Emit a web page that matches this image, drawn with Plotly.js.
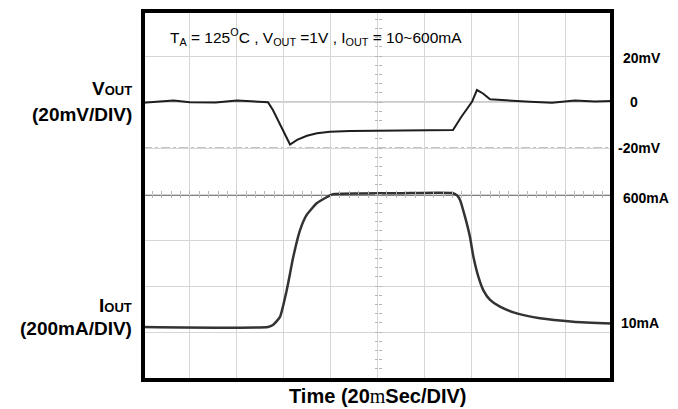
<!DOCTYPE html>
<html><head><meta charset="utf-8">
<script src="https://cdn.plot.ly/plotly-3.0.1.min.js"></script>
<style>html,body{margin:0;padding:0;background:#fff}</style>
</head><body><div id="chart" style="width:678px;height:409px"></div>
<script>
// Time in ms (20 ms / division, 10 divisions)
const timeV = [0, 7, 13, 20, 31, 40, 48, 53.3, 55.4, 59.7, 62.7, 65.7, 69.9, 74.2, 79.7, 88.3, 98.1, 109.6, 122.4, 132.2, 135.7, 140.3, 142.4, 145, 148, 155.7, 165, 174.4, 184.2, 192.7, 200];
// VOUT deviation in mV
const vout = [-0.3, 0.1, 0.6, -0.1, -0.2, 0.6, 0, -0.1, -3.5, -12.2, -18.5, -16.5, -14.7, -13.6, -12.9, -12.6, -12.5, -12.4, -12.3, -12.2, -6.5, 0.1, 5.2, 3.7, 1.2, 0.6, 0.1, -0.3, 0.6, 0.2, 0.4];
const timeI = [0, 53.3, 55.4, 58.4, 61.3, 64.1, 67, 69.8, 74.2, 78.5, 81, 92.5, 109.6, 132.2, 133.9, 135.2, 137.3, 139.4, 140.9, 143.0, 145.1, 148.0, 152.2, 159.4, 169.3, 183.5, 200];
// IOUT in mA
const iout = [10, 10, 19, 55, 175, 324, 444, 511, 564, 591, 604, 607, 608, 608, 598, 578, 503, 414, 324, 235, 175, 131, 101, 71, 49, 34, 26];

const voutLabelVals = [20, 0, -20];
const voutLabelText = ['20mV', '0', '-20mV'];
const ioutLabelVals = [600, 10];
const ioutLabelText = ['600mA', '10mA'];
const voutRefLevels = [0, -20];
const ioutRefLevels = [600];

const FONT = 'Liberation Sans, Arial, sans-serif';

const traces = [
  {x: timeV, y: vout, xaxis: 'x', yaxis: 'y', mode: 'lines', line: {color: '#1e1e1e', width: 2}, hoverinfo: 'skip'},
  {x: timeI, y: iout, xaxis: 'x', yaxis: 'y2', mode: 'lines', line: {color: '#333333', width: 2.5, shape: 'spline', smoothing: 0.5}, hoverinfo: 'skip'},
  {x: [], y: [], xaxis: 'x2', yaxis: 'y', mode: 'lines', showlegend: false},
  {x: [], y: [], xaxis: 'x3', yaxis: 'y', mode: 'lines', showlegend: false},
  {x: [], y: [], xaxis: 'x', yaxis: 'y3', mode: 'lines', showlegend: false},
  {x: [], y: [], xaxis: 'x', yaxis: 'y4', mode: 'lines', showlegend: false}
];

const yRange = [-120.87, 39.565];
const y2Range = [-226.9, 1422.4];
const centerFrac = (-40 - yRange[0]) / (yRange[1] - yRange[0]);

const baseAxis = {showticklabels: false, zeroline: false, showline: false, fixedrange: true};
const minorX = Object.assign({}, baseAxis, {overlaying: 'x', anchor: 'free', position: centerFrac, range: [0, 200], tickmode: 'linear', tick0: 0, dtick: 4, ticklen: 3, tickcolor: '#b5b5b5', showgrid: false});
const minorY = Object.assign({}, baseAxis, {overlaying: 'y', anchor: 'free', position: 0.5, range: yRange, tickmode: 'linear', tick0: 0, dtick: 4, ticklen: 3, tickcolor: '#b5b5b5', showgrid: false});

const shapes = [];
voutRefLevels.forEach((v, i) => shapes.push({type: 'line', xref: 'paper', x0: 0, x1: 1, yref: 'y', y0: v, y1: v, layer: 'below',
  line: {color: i === 0 ? '#9a9a9a' : '#8a8a8a', width: 1.2, dash: i === 0 ? 'solid' : 'dashdot'}}));
ioutRefLevels.forEach(v => shapes.push({type: 'line', xref: 'paper', x0: 0, x1: 1, yref: 'y2', y0: v, y1: v, layer: 'below',
  line: {color: '#555555', width: 1.5}}));
shapes.push({type: 'rect', xref: 'paper', yref: 'paper', x0: 0, x1: 1, y0: 0, y1: 1, layer: 'above', line: {color: '#000', width: 4}});

const annotations = [];
const rightShift = [9, 16, 4];
const rightYShift = [-2, 0, 0];
voutLabelVals.forEach((v, i) => annotations.push({xref: 'paper', x: 1, xanchor: 'left', xshift: rightShift[i], yref: 'y', y: v, yanchor: 'middle', yshift: rightYShift[i],
  text: '<b>' + voutLabelText[i] + '</b>', showarrow: false, font: {family: FONT, size: 14, color: '#000'}}));
const iShift = [9, 7];
const iYShift = [-3, 4];
ioutLabelVals.forEach((v, i) => annotations.push({xref: 'paper', x: 1, xanchor: 'left', xshift: iShift[i], yref: 'y2', y: v, yanchor: 'middle', yshift: iYShift[i],
  text: '<b>' + ioutLabelText[i] + '</b>', showarrow: false, font: {family: FONT, size: 14, color: '#000'}}));

const leftLbl = (text, ypx) => ({xref: 'paper', x: 0, xanchor: 'right', xshift: -9, yref: 'paper', y: (380 - ypx) / 369, yanchor: 'middle',
  text: text, showarrow: false, align: 'right', font: {family: FONT, size: 19, color: '#000'}});
annotations.push(leftLbl('<b>V<span style="font-size:13px">OUT</span></b>', 88));
annotations.push(leftLbl('<b>(20mV/DIV)</b>', 115));
annotations.push(leftLbl('<b>I<span style="font-size:13px">OUT</span></b>', 305));
annotations.push(leftLbl('<b>(200mA/DIV)</b>', 328));

annotations.push({xref: 'paper', x: (168 - 143) / 469, xanchor: 'left', yref: 'paper', y: (380 - 37) / 369, yanchor: 'middle', showarrow: false,
  text: 'T<sub>A</sub> = 125<sup>O</sup>C , V<sub>OUT</sub> =1V , I<sub>OUT</sub> = 10~600mA', font: {family: FONT, size: 15.5, color: '#000'}});

annotations.push({xref: 'paper', x: 0.5, xanchor: 'center', yref: 'paper', y: (380 - 396) / 369, yanchor: 'middle', showarrow: false,
  text: '<b>Time (20<span style="font-family:Liberation Serif;font-weight:normal">m</span>Sec/DIV)</b>', font: {family: FONT, size: 20, color: '#000'}});

const layout = {
  width: 678, height: 409,
  margin: {l: 143, r: 66, t: 11, b: 29},
  paper_bgcolor: '#fff', plot_bgcolor: '#fff',
  showlegend: false,
  xaxis: Object.assign({}, baseAxis, {range: [0, 200], tickmode: 'linear', tick0: 0, dtick: 20, ticks: '', showgrid: true, gridcolor: '#d6d6d6', gridwidth: 1}),
  yaxis: Object.assign({}, baseAxis, {range: yRange, tickmode: 'linear', tick0: 0, dtick: 20, ticks: '', showgrid: true, gridcolor: '#d6d6d6', gridwidth: 1}),
  yaxis2: Object.assign({}, baseAxis, {range: y2Range, overlaying: 'y', side: 'right', showgrid: false, ticks: ''}),
  xaxis2: Object.assign({}, minorX, {ticks: 'outside'}),
  xaxis3: Object.assign({}, minorX, {ticks: 'inside'}),
  yaxis3: Object.assign({}, minorY, {ticks: 'outside'}),
  yaxis4: Object.assign({}, minorY, {ticks: 'inside'}),
  shapes: shapes,
  annotations: annotations
};

Plotly.newPlot('chart', traces, layout, {staticPlot: true, displayModeBar: false});
</script>
</body></html>
